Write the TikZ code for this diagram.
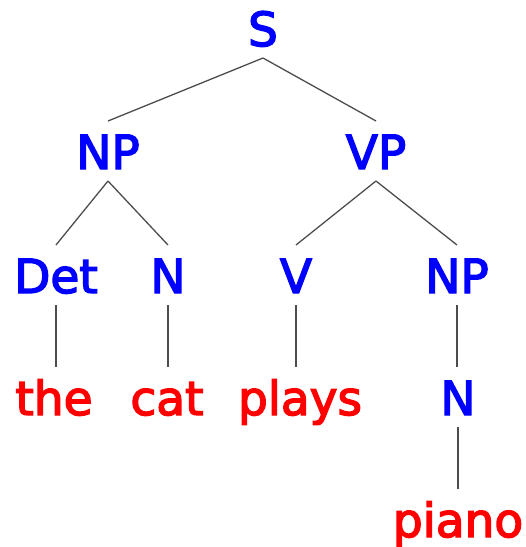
\documentclass[tikz,border=0pt]{standalone}
\usepackage{fontspec}
\setmainfont{DejaVu Sans}
\newfontfamily\treefont{DejaVu Sans}[FakeBold=3]
\begin{document}
\begin{tikzpicture}[x=1pt, y=-1pt,
        every node/.style={font=\treefont\fontsize{47}{57}\selectfont, inner sep=0pt, outer sep=12pt,
            text height=36pt, text depth=0pt, anchor=base},
        phrase/.style={text=blue},
        word/.style={text=red},
        branch/.style={draw=black!70, line width=1.3pt}]
        \useasboundingbox (0,0) rectangle (526,547);

        % root
        \node[phrase] (s) at (263,46) {S};

        % phrases
        \node[phrase] (np1) at (108,169) {NP};
        \node[phrase] (vp) at (376,169) {VP};

        % categories
        \node[phrase] (det) at (56,293) {Det};
        \node[phrase] (n1) at (168,293) {N};
        \node[phrase] (v) at (296,293) {V};
        \node[phrase] (np2) at (457,293) {NP};
        \node[phrase] (n2) at (458,415) {N};

        % words
        \node[word] (the) at (54,415) {the};
        \node[word] (cat) at (167,415) {cat};
        \node[word] (plays) at (300,415) {plays};
        \node[word] (piano) at (458,537) {piano};

        % branches
        \draw[branch] (s.south) -- (np1.north);
        \draw[branch] (s.south) -- (vp.north);
        \draw[branch] (np1.south) -- (det.north);
        \draw[branch] (np1.south) -- (n1.north);
        \draw[branch] (vp.south) -- (v.north);
        \draw[branch] (vp.south) -- (np2.north);
        \draw[branch] (det.south) -- (det.south |- the.north);
        \draw[branch] (n1.south) -- (n1.south |- cat.north);
        \draw[branch] (v.south) -- (v.south |- plays.north);
        \draw[branch] (np2.south) -- (np2.south |- n2.north);
        \draw[branch] (n2.south) -- (n2.south |- piano.north);
    \end{tikzpicture}
\end{document}
